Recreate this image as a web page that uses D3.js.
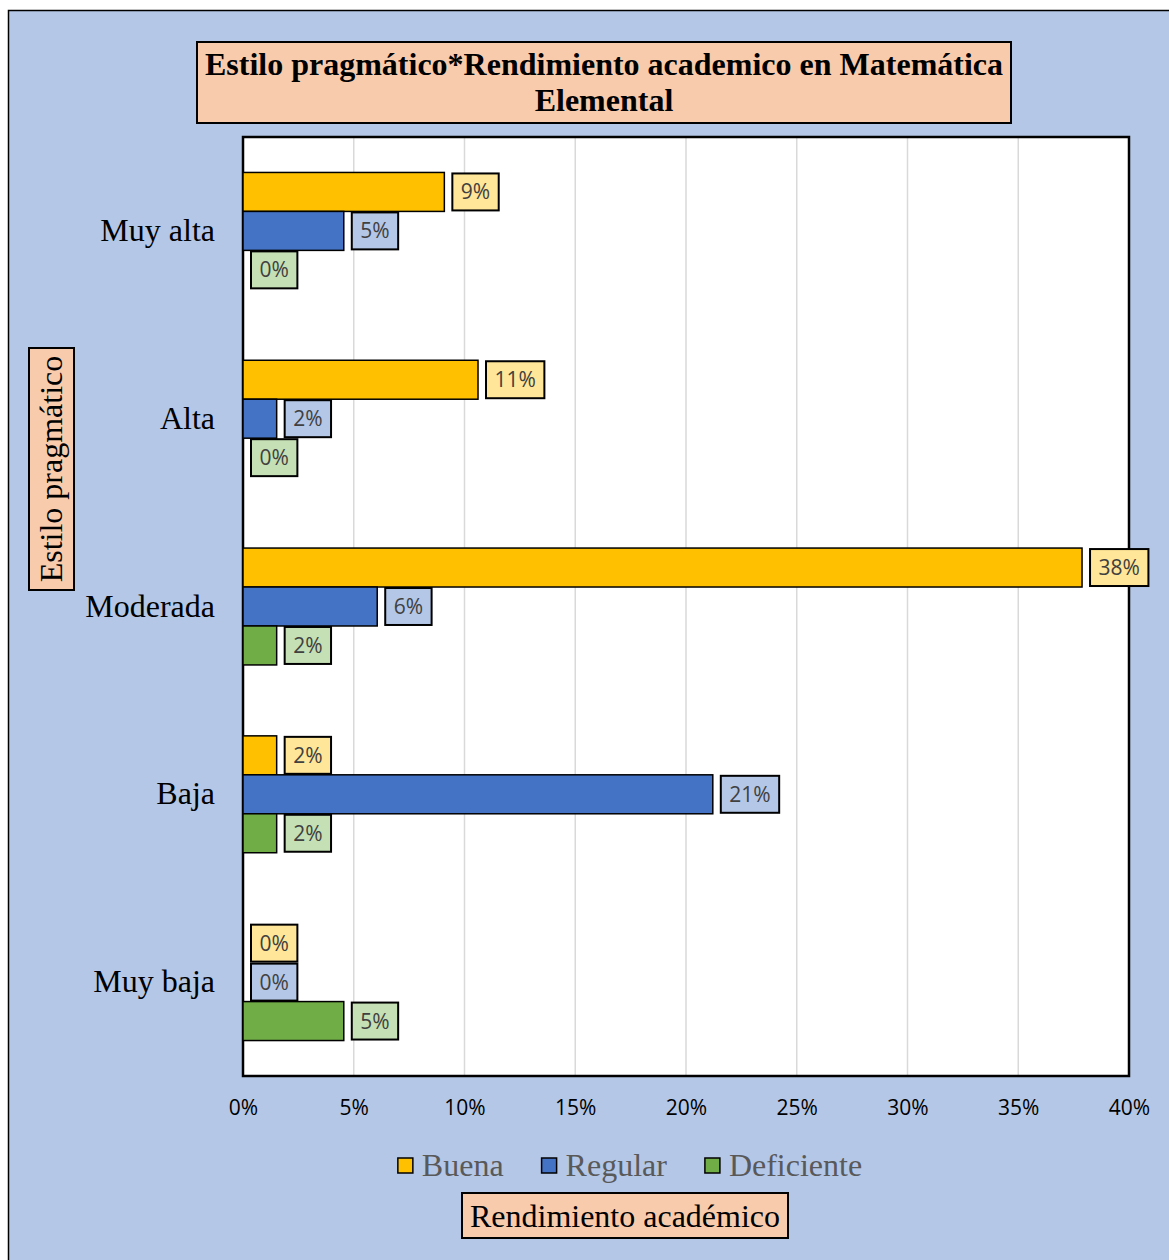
<!DOCTYPE html>
<html>
<head>
<meta charset="utf-8">
<script src="https://cdn.jsdelivr.net/npm/d3@7"></script>
<style>
  body { margin: 0; background: #fff; }
  svg { display: block; }
</style>
</head>
<body>
<svg id="chart"></svg>
<script>
// data (n = 66, so values are k/66)
const categories = ["Muy alta", "Alta", "Moderada", "Baja", "Muy baja"];
const series = ["Buena", "Regular", "Deficiente"];
const buena = [9.09, 10.61, 37.88, 1.52, 0];
const regular = [4.55, 1.52, 6.06, 21.21, 0];
const deficiente = [0, 0, 1.52, 1.52, 4.55];
const xTicks = [0, 5, 10, 15, 20, 25, 30, 35, 40];

const barColors = ["#FFC000", "#4472C4", "#70AD47"];
const labelColors = ["#FFE699", "#B4C7E7", "#C5E0B4"];
const values = [buena, regular, deficiente];

const W = 1169, H = 1260;
const plot = { left: 243, right: 1129, top: 137, bottom: 1076 };
const serif = "Liberation Serif, Times New Roman, serif";
const sans = "Open Sans, Noto Sans, sans-serif";

const svg = d3.select("#chart").attr("width", W).attr("height", H);

// outer chart area (runs off the right / bottom of the picture)
svg.append("rect")
   .attr("x", 8.5).attr("y", 10.5)
   .attr("width", W + 20).attr("height", H + 20)
   .attr("fill", "#B4C7E7")
   .attr("stroke", "#000").attr("stroke-width", 1.5);

// plot area
svg.append("rect")
   .attr("x", plot.left).attr("y", plot.top)
   .attr("width", plot.right - plot.left).attr("height", plot.bottom - plot.top)
   .attr("fill", "#fff");

const x = d3.scaleLinear().domain([0, 40]).range([plot.left, plot.right]);
const y = d3.scaleBand().domain(categories).range([plot.top, plot.bottom]);
const ySub = d3.scaleBand().domain(series).range([0, y.bandwidth()]).paddingOuter(0.91);

// gridlines
svg.append("g")
   .selectAll("line")
   .data(xTicks.slice(1))
   .enter()
   .append("line")
   .attr("x1", d => x(d)).attr("x2", d => x(d))
   .attr("y1", plot.top).attr("y2", plot.bottom)
   .attr("stroke", "#D9D9D9").attr("stroke-width", 1.5);

// plot border (labels are drawn on top of it)
svg.append("rect")
   .attr("x", plot.left).attr("y", plot.top)
   .attr("width", plot.right - plot.left).attr("height", plot.bottom - plot.top)
   .attr("fill", "none")
   .attr("stroke", "#000").attr("stroke-width", 2.5);

// bars + labels
const rows = [];
categories.forEach((c, i) => {
   series.forEach((s, j) => {
      rows.push({ cat: c, ser: s, j: j, v: values[j][i] });
   });
});

const g = svg.append("g");
g.selectAll("rect.bar")
   .data(rows.filter(d => d.v > 0))
   .enter()
   .append("rect")
   .attr("class", "bar")
   .attr("x", x(0))
   .attr("y", d => y(d.cat) + ySub(d.ser))
   .attr("width", d => x(d.v) - x(0))
   .attr("height", ySub.bandwidth())
   .attr("fill", d => barColors[d.j])
   .attr("stroke", "#000").attr("stroke-width", 1.5);

const lab = g.selectAll("g.lab")
   .data(rows)
   .enter()
   .append("g")
   .attr("class", "lab");

lab.append("rect");
lab.append("text")
   .attr("font-family", sans)
   .attr("font-size", 21)
   .attr("fill", "#404040")
   .attr("text-anchor", "middle")
   .text(d => Math.round(d.v) + "%");

lab.each(function(d) {
   const gg = d3.select(this);
   const tw = gg.select("text").node().getComputedTextLength();
   const bw = tw + 17;
   const bx = x(d.v) + 8;
   const by = y(d.cat) + ySub(d.ser) + 1;
   const bh = ySub.bandwidth() - 2;
   gg.select("rect")
     .attr("x", bx).attr("y", by)
     .attr("width", bw).attr("height", bh)
     .attr("fill", labelColors[d.j])
     .attr("stroke", "#000").attr("stroke-width", 2);
   gg.select("text")
     .attr("x", bx + bw / 2)
     .attr("y", by + bh / 2 + 7.5);
});

// x axis tick labels
const xAxis = svg.append("g")
   .attr("transform", `translate(0,${plot.bottom})`)
   .call(d3.axisBottom(x).tickValues(xTicks).tickSize(0).tickPadding(24).tickFormat(d => d + "%"));
xAxis.select(".domain").remove();
xAxis.selectAll("text")
   .attr("font-family", sans)
   .attr("font-size", 21)
   .attr("fill", "#000");

// category labels
svg.append("g")
   .selectAll("text")
   .data(categories)
   .enter()
   .append("text")
   .attr("x", 215)
   .attr("y", d => y(d) + y.bandwidth() / 2 + 10)
   .attr("text-anchor", "end")
   .attr("font-family", serif)
   .attr("font-size", 32)
   .attr("fill", "#000")
   .text(d => d);

// title
svg.append("rect")
   .attr("x", 197).attr("y", 42)
   .attr("width", 814).attr("height", 81)
   .attr("fill", "#F8CBAD")
   .attr("stroke", "#000").attr("stroke-width", 2);
const title = svg.append("text")
   .attr("text-anchor", "middle")
   .attr("font-family", serif)
   .attr("font-weight", "bold")
   .attr("font-size", 32)
   .attr("fill", "#000");
title.append("tspan").attr("x", 604).attr("y", 75).text("Estilo pragmático*Rendimiento academico en Matemática");
title.append("tspan").attr("x", 604).attr("y", 111).text("Elemental");

// y axis title
svg.append("rect")
   .attr("x", 29).attr("y", 348)
   .attr("width", 45).attr("height", 242)
   .attr("fill", "#F8CBAD")
   .attr("stroke", "#000").attr("stroke-width", 2);
svg.append("text")
   .attr("transform", "translate(62,469) rotate(-90)")
   .attr("text-anchor", "middle")
   .attr("font-family", serif)
   .attr("font-size", 32)
   .attr("fill", "#000")
   .text("Estilo pragmático");

// legend
const legend = svg.append("g");
const items = legend.selectAll("g")
   .data(series)
   .enter()
   .append("g");
items.append("rect")
   .attr("width", 15).attr("height", 15)
   .attr("y", 1158)
   .attr("fill", (d, i) => barColors[i])
   .attr("stroke", "#000").attr("stroke-width", 1.5);
items.append("text")
   .attr("y", 1176)
   .attr("font-family", serif)
   .attr("font-size", 32)
   .attr("fill", "#595959")
   .text(d => d);
let lx = 0;
const widths = [];
items.each(function() {
   const it = d3.select(this);
   const tw = it.select("text").node().getComputedTextLength();
   it.select("rect").attr("x", lx);
   it.select("text").attr("x", lx + 24);
   widths.push(lx + 24 + tw);
   lx += 24 + tw + 38;
});
const legW = widths[widths.length - 1];
legend.attr("transform", `translate(${630 - legW / 2},0)`);

// x axis title
svg.append("rect")
   .attr("x", 462).attr("y", 1193)
   .attr("width", 326).attr("height", 45)
   .attr("fill", "#F8CBAD")
   .attr("stroke", "#000").attr("stroke-width", 2);
svg.append("text")
   .attr("x", 625).attr("y", 1227)
   .attr("text-anchor", "middle")
   .attr("font-family", serif)
   .attr("font-size", 32)
   .attr("fill", "#000")
   .text("Rendimiento académico");
</script>
</body>
</html>
